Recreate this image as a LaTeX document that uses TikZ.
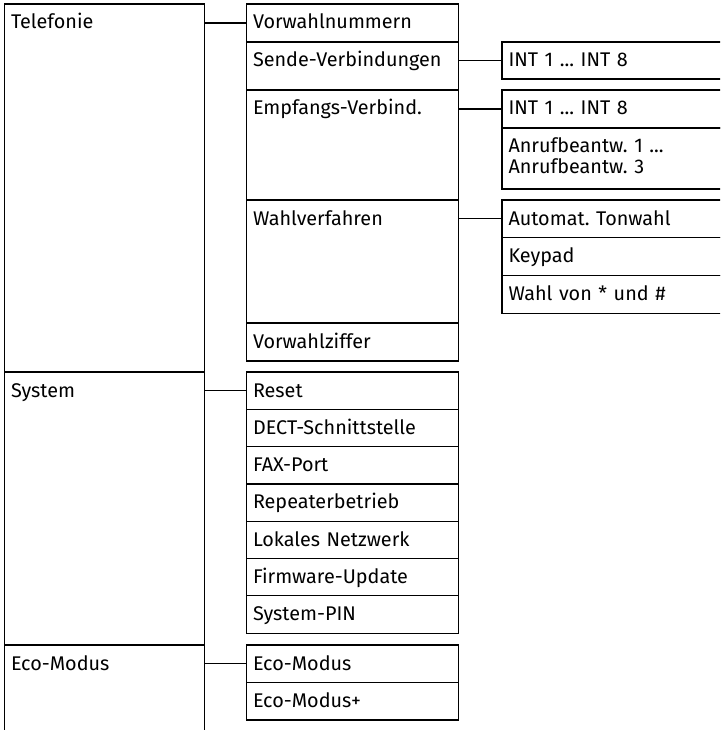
\documentclass[tikz,border=0pt]{standalone}
\usepackage{fontspec}
\setmainfont{Fira Sans}
\frenchspacing
\usetikzlibrary{positioning}

\begin{document}
\begin{tikzpicture}[x=1pt, y=-1pt, line width=1.2pt, node distance=0pt,
  every node/.style={font=\fontsize{19.8}{21}\selectfont},
  cell/.style={draw, anchor=north west, outer sep=0pt, inner xsep=6.5pt, inner ysep=0pt, text height=25pt, align=left},
  menu/.style={cell, text width=187pt},
  sub/.style={cell, text width=199pt},
  subsub/.style={cell, text width=217pt}]
\useasboundingbox (0,0) rectangle (720,730);
\clip (0,0) rectangle (720,730);
\node (tel) [menu, text depth=343pt] at (4.5,4) {Telefonie};
\node (sys) [menu, text depth=248pt, below=of tel] {System};
\node (eco) [menu, text depth=75pt, below=of sys] {Eco-Modus};
\node (vwn) [sub, text depth=13pt] at (246.5,4) {Vorwahlnummern};
\node (sende) [sub, text depth=23pt, below=of vwn] {Sende-Verbindungen};
\node (empf) [sub, text depth=85pt, below=of sende] {Empfangs-Verbind.};
\node (wahl) [sub, text depth=98pt, below=of empf] {Wahlverfahren};
\node (vwz) [sub, text depth=13pt, below=of wahl] {Vorwahlziffer};
\node (reset) [sub, text depth=12.3pt] at (246.5,372) {Reset};
\node (dect) [sub, text depth=12.3pt, below=of reset] {DECT-Schnittstelle};
\node (fax) [sub, text depth=12.3pt, below=of dect] {FAX-Port};
\node (rep) [sub, text depth=12.3pt, below=of fax] {Repeaterbetrieb};
\node (lan) [sub, text depth=12.3pt, below=of rep] {Lokales Netzwerk};
\node (fw) [sub, text depth=12.3pt, below=of lan] {Firmware-Update};
\node (pin) [sub, text depth=12.3pt, below=of fw] {System-PIN};
\node (eco1) [sub, text depth=12.5pt] at (246.5,645) {Eco-Modus};
\node (eco2) [sub, text depth=12.5pt, below=of eco1] {Eco-Modus+};
\node (int1) [subsub, text depth=12pt] at (502,42) {INT 1 ... INT 8};
\node (int2) [subsub, text depth=13pt] at (502,90) {INT 1 ... INT 8};
\node (ab) [subsub, text depth=36pt, below=of int2] {Anrufbeantw. 1 ...\\Anrufbeantw. 3};
\node (ton) [subsub, text depth=12.7pt] at (502,200) {Automat. Tonwahl};
\node (key) [subsub, text depth=12.7pt, below=of ton] {Keypad};
\node (stern) [subsub, text depth=12.7pt, below=of key] {Wahl von * und \#};
\draw (tel.east |- vwn.west) -- (vwn.west);
\draw (sys.east |- reset.west) -- (reset.west);
\draw (eco.east |- eco1.west) -- (eco1.west);
\draw (sende.east |- int1.west) -- (int1.west);
\draw (empf.east |- int2.west) -- (int2.west);
\draw (wahl.east |- ton.west) -- (ton.west);
\end{tikzpicture}
\end{document}
